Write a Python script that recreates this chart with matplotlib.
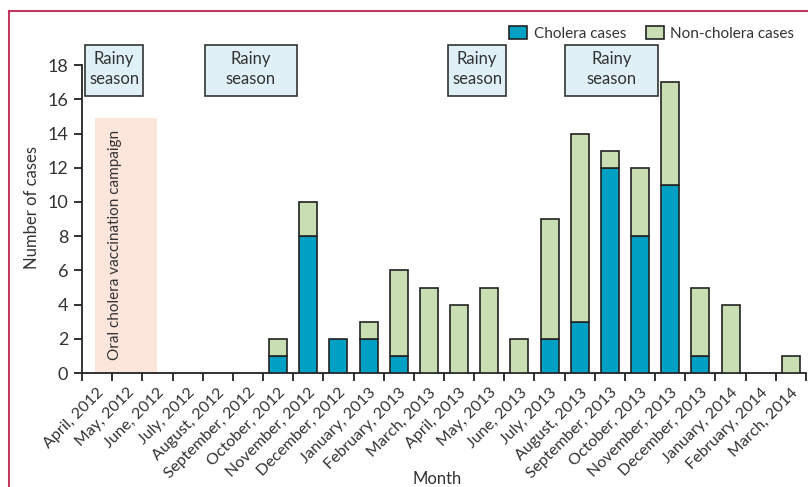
import matplotlib
matplotlib.use("Agg")
import matplotlib.pyplot as plt
from matplotlib.patches import Rectangle, Patch
from matplotlib.lines import Line2D

plt.rcParams['font.family'] = ['Lato', 'DejaVu Sans']

months = ["April, 2012", "May, 2012", "June, 2012", "July, 2012", "August, 2012",
          "September, 2012", "October, 2012", "November, 2012", "December, 2012",
          "January, 2013", "February, 2013", "March, 2013", "April, 2013", "May, 2013",
          "June, 2013", "July, 2013", "August, 2013", "September, 2013", "October, 2013",
          "November, 2013", "December, 2013", "January, 2014", "February, 2014",
          "March, 2014"]
cholera = [0, 0, 0, 0, 0, 0, 1, 8, 2, 2, 1, 0, 0, 0, 0, 2, 3, 12, 8, 11, 1, 0, 0, 0]
non_cholera = [0, 0, 0, 0, 0, 0, 1, 2, 0, 1, 5, 5, 4, 5, 2, 7, 11, 1, 4, 6, 4, 4, 0, 1]

# rainy-season spans (x start, x end) in month-index units
rainy_spans = [(-0.4, 1.53), (3.57, 6.63), (11.63, 13.57), (15.5, 18.6)]
campaign_span = (-0.07, 1.97)
campaign_height = 14.9

blue = "#00a0c4"
green = "#c9dfb3"
edge = "#222222"
text_col = "#333333"

fig = plt.figure(figsize=(8.08, 4.87), dpi=100)
ax = fig.add_axes([0.1015, 0.234, 0.896, 0.678])

x = list(range(len(months)))
ax.set_xlim(-0.5, len(months) - 0.5)
ax.set_ylim(0, 19.3)

# vaccination campaign band
ax.add_patch(Rectangle((campaign_span[0], 0), campaign_span[1] - campaign_span[0],
                       campaign_height, facecolor="#fce6dc", edgecolor="none", zorder=0))
ax.text((campaign_span[0] + campaign_span[1]) / 2 - 0.37, 0.75,
        "Oral cholera vaccination campaign", rotation=90, ha="center", va="bottom",
        fontsize=11, color=text_col, zorder=1)

# rainy-season boxes
for x0, x1 in rainy_spans:
    ax.add_patch(Rectangle((x0, 16.2), x1 - x0, 3.0, facecolor="#dff0f7",
                           edgecolor="#333333", linewidth=1.2, zorder=2, clip_on=False))
    ax.text((x0 + x1) / 2, 17.75, "Rainy\nseason", ha="center", va="center",
            fontsize=12, color=text_col, linespacing=1.3, zorder=3)

# stacked bars
for i in x:
    if cholera[i] > 0:
        ax.bar(i, cholera[i], width=0.6, color=blue, edgecolor=edge, linewidth=1.2, zorder=3)
    if non_cholera[i] > 0:
        ax.bar(i, non_cholera[i], width=0.6, bottom=cholera[i], color=green,
               edgecolor=edge, linewidth=1.2, zorder=3)

for side in ("top", "right"):
    ax.spines[side].set_visible(False)
ax.spines["left"].set_bounds(0, 18)
for side in ("left", "bottom"):
    ax.spines[side].set_linewidth(1.3)
    ax.spines[side].set_color("#222222")

ax.set_yticks(range(0, 19, 2))
ax.tick_params(axis="y", labelsize=13, colors="#222222", labelcolor=text_col,
               length=6, width=1.3, pad=4)

boundaries = [i - 0.5 for i in range(len(months) + 1)]
ax.set_xticks(boundaries)
ax.set_xticklabels([])
ax.tick_params(axis="x", which="major", length=6, width=1.3, colors="#222222")
ax.set_xticks(x, minor=True)
ax.set_xticklabels(months, minor=True, rotation=45, ha="right", rotation_mode="anchor",
                   fontsize=11.5, color=text_col)
ax.tick_params(axis="x", which="minor", length=0, pad=9)

ax.set_ylabel("Number of cases", fontsize=12, color=text_col)
ax.yaxis.set_label_coords(-0.058, 0.5)
ax.set_xlabel("Month", fontsize=12, color=text_col, va="center")
ax.xaxis.set_label_coords(0.49, -0.322)

handles = [Patch(facecolor=blue, edgecolor=edge, linewidth=1.2, label="Cholera cases"),
           Patch(facecolor=green, edgecolor=edge, linewidth=1.2, label="Non-cholera cases")]
fig.legend(handles=handles, loc="upper right", bbox_to_anchor=(1.0, 0.975), ncol=2,
           frameon=False, fontsize=11, handlelength=1.2, handleheight=0.9,
           handletextpad=0.4, columnspacing=1.3, labelcolor=text_col)

# frame lines along the top and left edges
frame_col = "#c0385f"
fig.add_artist(Line2D([0.011, 1.0], [0.978, 0.978], color=frame_col, linewidth=1.5,
                      transform=fig.transFigure))
fig.add_artist(Line2D([0.011, 0.011], [0.0, 0.978], color=frame_col, linewidth=1.5,
                      transform=fig.transFigure))

fig.savefig("out.png", dpi=100)
